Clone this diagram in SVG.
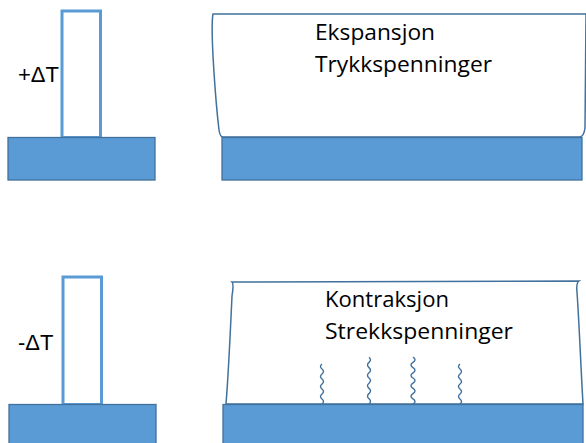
<svg xmlns="http://www.w3.org/2000/svg" width="586" height="443" viewBox="0 0 586 443">
<style>
.pillar{fill:#fff;stroke:#5B9BD5;stroke-width:3}
.base{fill:#5B9BD5;stroke:#41719C;stroke-width:1.3}
.body{fill:#fff;stroke:#41719C;stroke-width:1.5}
.dt{font-family:"Liberation Sans",Arial,sans-serif;font-size:22px;fill:#000}
.lbl{font-family:"Open Sans","Noto Sans",sans-serif;font-size:21px;fill:#000}
.wave{fill:none;stroke:#41719C;stroke-width:1.4}
</style>
<rect width="586" height="443" fill="#fff"/>
<g id="top-left">
<rect class="pillar" x="62" y="11" width="38.5" height="126.5"/>
<rect class="base" x="8" y="137.5" width="147" height="42.5"/>
<text class="dt" x="18" y="82">+ΔT</text>
</g>
<g id="top-right">
<path class="body" d="M213,14 C210,30 216,105 219,130 Q220,137 223,137 L580,137 Q584,136 585,128 L586,14 Z"/>
<rect class="base" x="222" y="137.5" width="360" height="42.5"/>
<text class="lbl" x="315" y="40" textLength="120" lengthAdjust="spacingAndGlyphs">Ekspansjon</text>
<text class="lbl" x="315" y="72" textLength="177" lengthAdjust="spacingAndGlyphs">Trykkspenninger</text>
</g>
<g id="bottom-left">
<rect class="pillar" x="63" y="277" width="38.5" height="127.5"/>
<rect class="base" x="9" y="404.5" width="147" height="40"/>
<text class="dt" x="18" y="350">-ΔT</text>
</g>
<g id="bottom-right">
<path class="body" d="M232,282 Q234,284 232,296 C230,340 228,380 226,404 L583,404 C581,370 579,320 577,292 Q576,283 579,281 Z"/>
<rect class="base" x="223" y="404.5" width="360" height="40"/>
<text class="lbl" x="325" y="307" textLength="124" lengthAdjust="spacingAndGlyphs">Kontraksjon</text>
<text class="lbl" x="325" y="339" textLength="188" lengthAdjust="spacingAndGlyphs">Strekkspenninger</text>
</g>
<g id="connectors">
<path class="wave" d="M322,404 q3,-2.5 0,-5 t0,-5 t0,-5 t0,-5 t0,-5 t0,-5 t0,-5 t0,-5"/>
<path class="wave" d="M369,404 q3,-2.6 0,-5.2 t0,-5.2 t0,-5.2 t0,-5.2 t0,-5.2 t0,-5.2 t0,-5.2 t0,-5.2 t0,-5.2"/>
<path class="wave" d="M413,404 q4,-2.6 0,-5.2 t0,-5.2 t0,-5.2 t0,-5.2 t0,-5.2 t0,-5.2 t0,-5.2 t0,-5.2 t0,-5.2"/>
<path class="wave" d="M460,404 q3,-2.5 0,-5 t0,-5 t0,-5 t0,-5 t0,-5 t0,-5 t0,-5 t0,-5"/>
</g>
</svg>
